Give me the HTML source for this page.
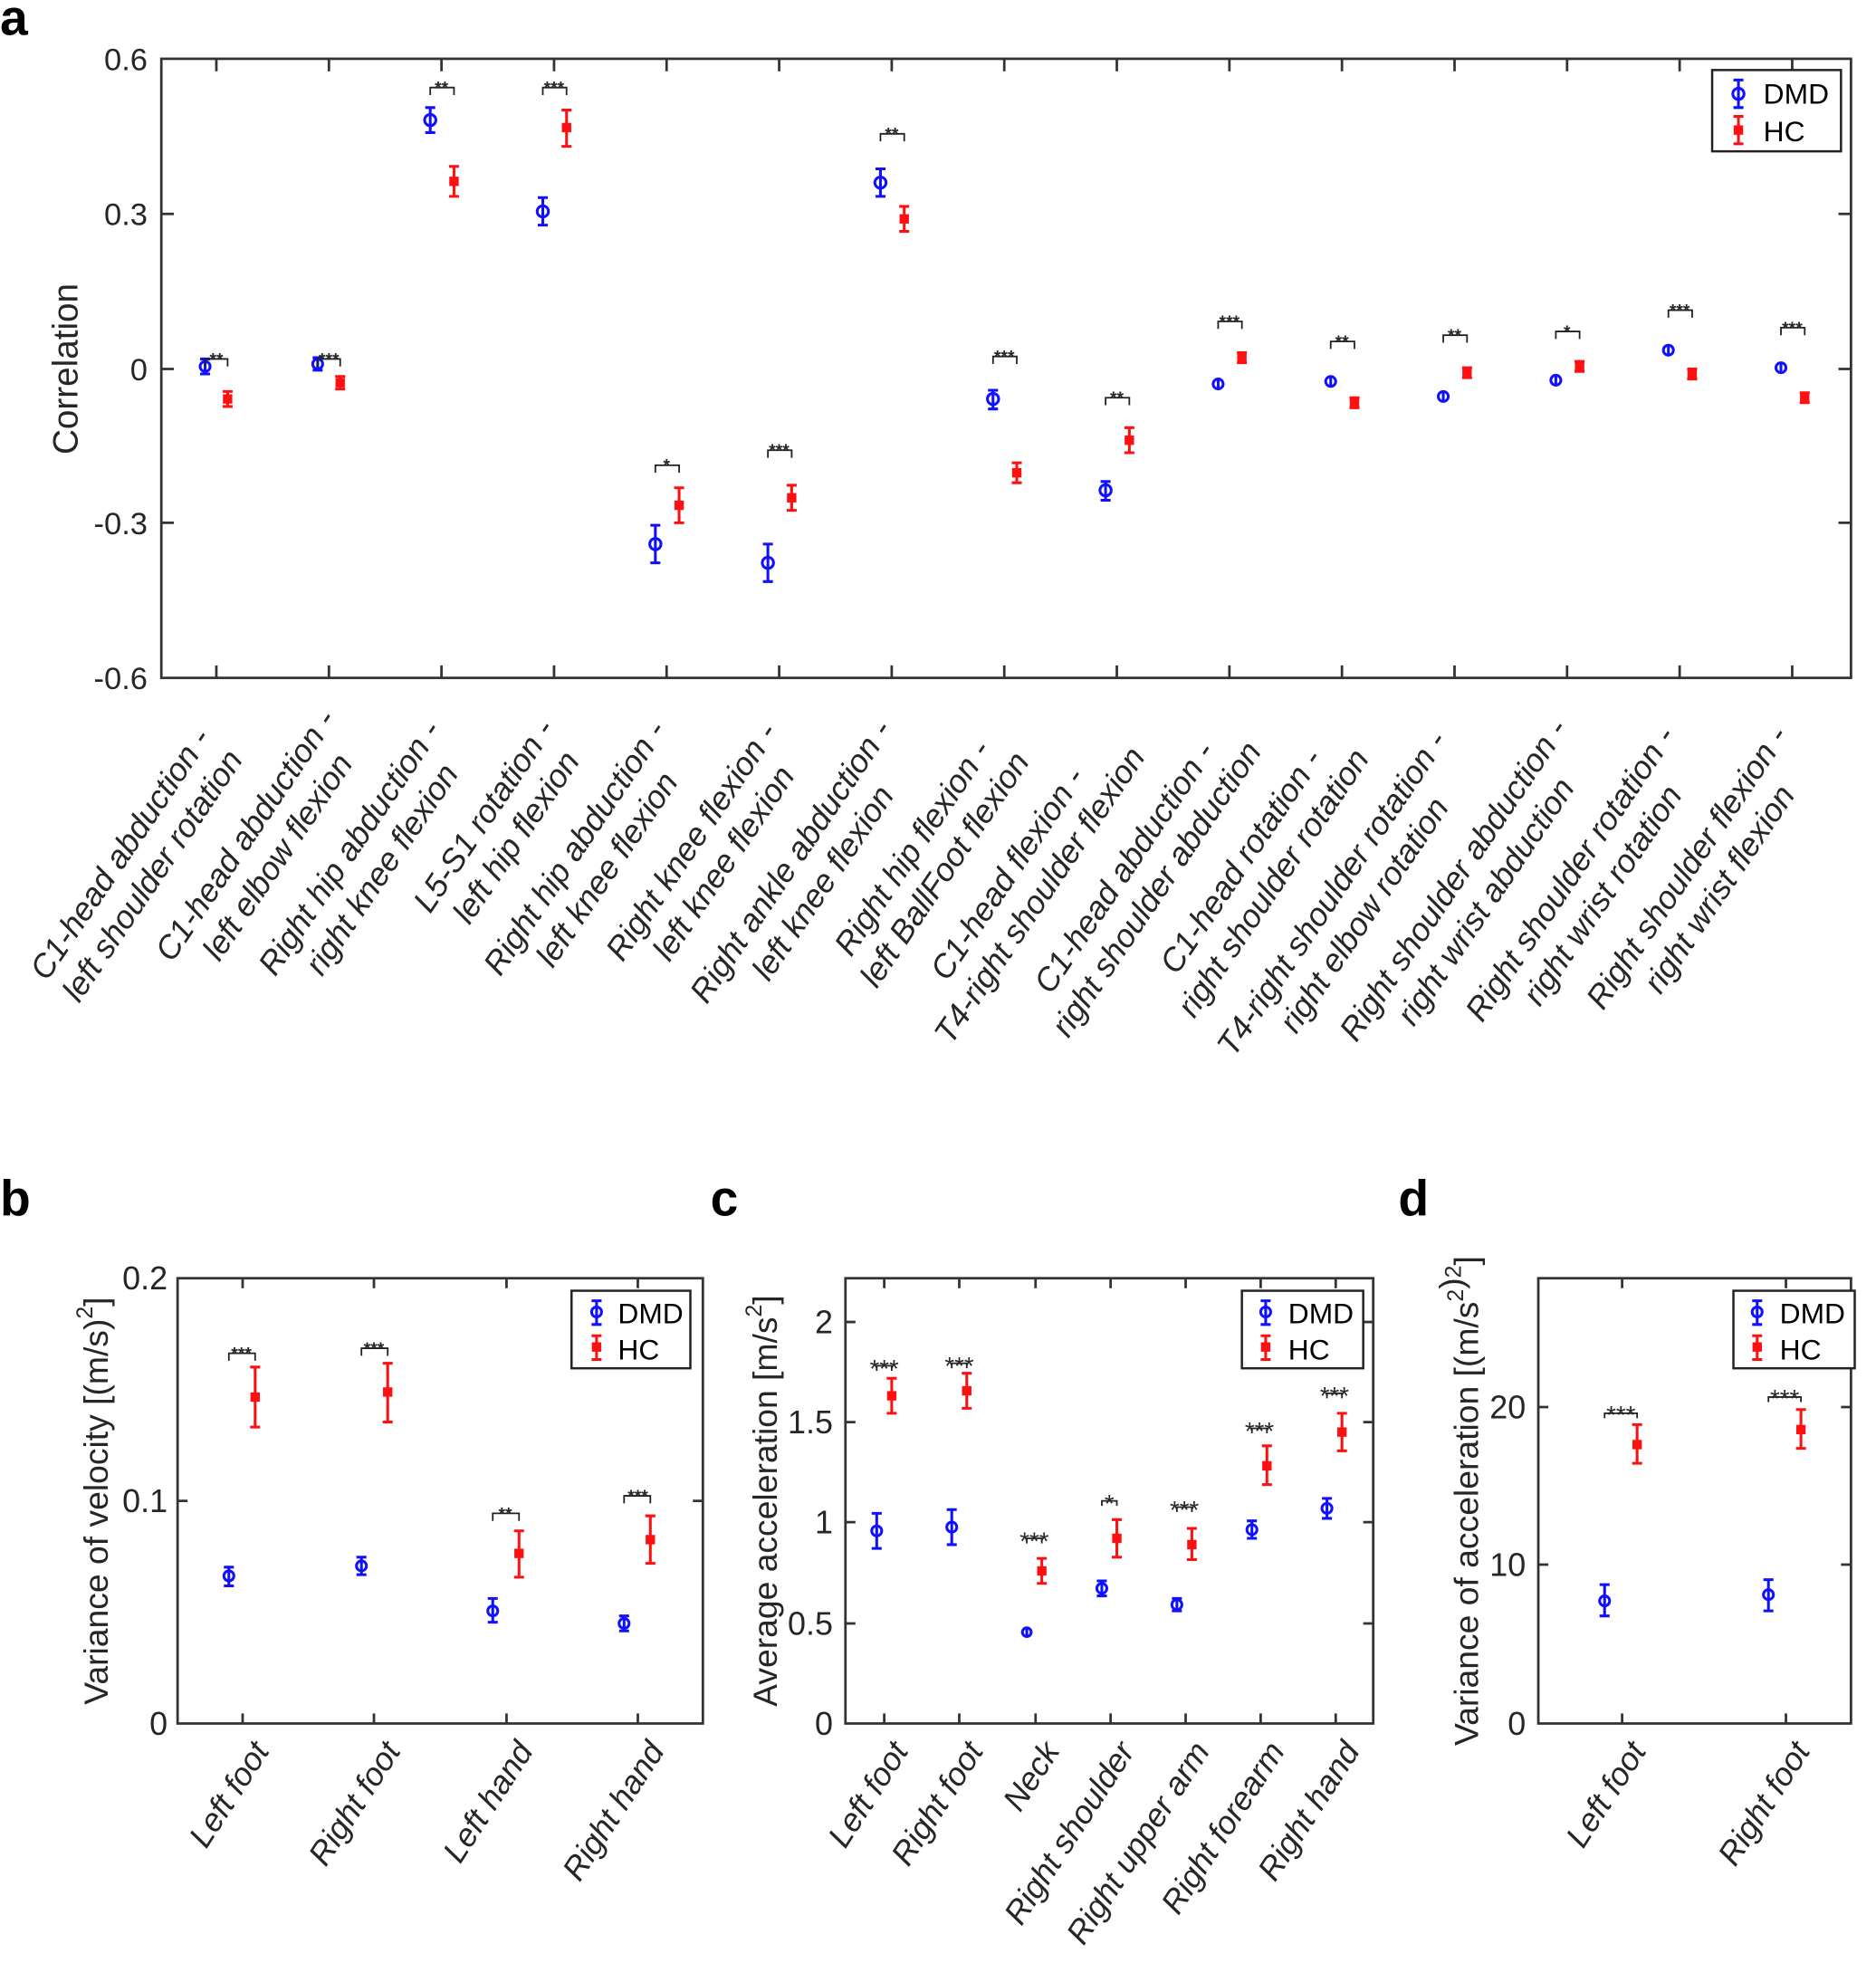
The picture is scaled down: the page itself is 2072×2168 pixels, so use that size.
<!DOCTYPE html>
<html><head><meta charset="utf-8"><style>
html,body{margin:0;padding:0;background:#fff}
svg{display:block}
text{font-family:"Liberation Sans",Arial,sans-serif;fill:#262626}
.ax{fill:none;stroke:#333;stroke-width:2}
.b{stroke:#1010ff;stroke-width:2.2;fill:none}
.r{stroke:#ff1010;stroke-width:2.2;fill:none}
.rs{fill:#ff1010;stroke:#ff1010;stroke-width:1.5}
.br{fill:none;stroke:#222;stroke-width:1.3}
.lab{font-style:italic}
</style></head><body>
<svg width="2072" height="2168" viewBox="0 0 1500 1569.5" preserveAspectRatio="none" xmlns="http://www.w3.org/2000/svg">
<text x="0" y="28" style="font-weight:bold;font-size:40px;fill:#000">a</text>
<text x="0" y="972" style="font-weight:bold;font-size:40px;fill:#000">b</text>
<text x="568" y="972" style="font-weight:bold;font-size:40px;fill:#000">c</text>
<text x="1118" y="972" style="font-weight:bold;font-size:40px;fill:#000">d</text>

<!-- ===== Panel a ===== -->
<rect x="129" y="47" width="1351" height="495" class="ax"/>
<path class="ax" d="M173 47v10M263 47v10M353 47v10M443 47v10M533 47v10M623 47v10M713 47v10M803 47v10M893 47v10M983 47v10M1073 47v10M1163 47v10M1253 47v10M1343 47v10M1433 47v10
M173 542v-10M263 542v-10M353 542v-10M443 542v-10M533 542v-10M623 542v-10M713 542v-10M803 542v-10M893 542v-10M983 542v-10M1073 542v-10M1163 542v-10M1253 542v-10M1343 542v-10M1433 542v-10
M129 171h10M129 295h10M129 418h10M1480 171h-10M1480 295h-10M1480 418h-10"/>
<g style="font-size:25px" text-anchor="end">
<text x="118" y="56">0.6</text><text x="118" y="180">0.3</text><text x="118" y="304">0</text><text x="118" y="427">-0.3</text><text x="118" y="551">-0.6</text>
</g>
<text transform="translate(62,295) rotate(-90)" text-anchor="middle" style="font-size:28px">Correlation</text>

<g>
<path class="b" d="M164 287V299M160 287h8M160 299h8"/><circle class="b" cx="164" cy="293" r="4"/>
<path class="r" d="M182 313V325M178 313h8M178 325h8"/><rect class="rs" x="179" y="316" width="6" height="6"/>
<path class="b" d="M254 286V296M250 286h8M250 296h8"/><circle class="b" cx="254" cy="291" r="4"/>
<path class="r" d="M272 301V311M268 301h8M268 311h8"/><rect class="rs" x="269" y="303" width="6" height="6"/>
<path class="b" d="M344 86V106M340 86h8M340 106h8"/><circle class="b" cx="344" cy="96" r="4.5"/>
<path class="r" d="M363 133V157M359 133h8M359 157h8"/><rect class="rs" x="360" y="142" width="6" height="6"/>
<path class="b" d="M434 158V180M430 158h8M430 180h8"/><circle class="b" cx="434" cy="169" r="4.5"/>
<path class="r" d="M453 88V117M449 88h8M449 117h8"/><rect class="rs" x="450" y="99" width="6" height="6"/>
<path class="b" d="M524 420V450M520 420h8M520 450h8"/><circle class="b" cx="524" cy="435" r="4.5"/>
<path class="r" d="M543 390V418M539 390h8M539 418h8"/><rect class="rs" x="540" y="401" width="6" height="6"/>
<path class="b" d="M614 435V465M610 435h8M610 465h8"/><circle class="b" cx="614" cy="450" r="4.5"/>
<path class="r" d="M633 388V408M629 388h8M629 408h8"/><rect class="rs" x="630" y="395" width="6" height="6"/>
<path class="b" d="M704 135V157M700 135h8M700 157h8"/><circle class="b" cx="704" cy="146" r="4.5"/>
<path class="r" d="M723 165V185M719 165h8M719 185h8"/><rect class="rs" x="720" y="172" width="6" height="6"/>
<path class="b" d="M794 312V327M790 312h8M790 327h8"/><circle class="b" cx="794" cy="319" r="4.5"/>
<path class="r" d="M813 370V386M809 370h8M809 386h8"/><rect class="rs" x="810" y="375" width="6" height="6"/>
<path class="b" d="M884 385V400M880 385h8M880 400h8"/><circle class="b" cx="884" cy="392" r="4.5"/>
<path class="r" d="M903 342V362M899 342h8M899 362h8"/><rect class="rs" x="900" y="349" width="6" height="6"/>
<path class="b" d="M974 303V311"/><circle class="b" cx="974" cy="307" r="4"/>
<path class="r" d="M993 282V290M989 282h8M989 290h8"/><rect class="rs" x="990" y="283" width="6" height="6"/>
<path class="b" d="M1064 301V309"/><circle class="b" cx="1064" cy="305" r="4"/>
<path class="r" d="M1083 318V326M1079 318h8M1079 326h8"/><rect class="rs" x="1080" y="319" width="6" height="6"/>
<path class="b" d="M1154 313V321"/><circle class="b" cx="1154" cy="317" r="4"/>
<path class="r" d="M1173 294V302M1169 294h8M1169 302h8"/><rect class="rs" x="1170" y="295" width="6" height="6"/>
<path class="b" d="M1244 300V308"/><circle class="b" cx="1244" cy="304" r="4"/>
<path class="r" d="M1263 289V297M1259 289h8M1259 297h8"/><rect class="rs" x="1260" y="290" width="6" height="6"/>
<path class="b" d="M1334 276V284"/><circle class="b" cx="1334" cy="280" r="4"/>
<path class="r" d="M1353 295V303M1349 295h8M1349 303h8"/><rect class="rs" x="1350" y="296" width="6" height="6"/>
<path class="b" d="M1424 290V298"/><circle class="b" cx="1424" cy="294" r="4"/>
<path class="r" d="M1443 314V322M1439 314h8M1439 322h8"/><rect class="rs" x="1440" y="315" width="6" height="6"/>
</g>
<path class="br" d="M164 293V287H182V293M254 293V287H272V293M344 76V70H363V76M434 76V70H453V76M524 378V372H543V378M614 366V360H633V366M704 113V107H723V113M794 291V285H813V291M884 324V318H903V324M974 263V257H993V263M1064 279V273H1083V279M1154 274V268H1173V274M1244 271V265H1263V271M1334 254V248H1353V254M1424 268V262H1443V268"/>
<g text-anchor="middle" style="font-size:14px;font-weight:bold">
<text x="173" y="292">**</text><text x="263" y="292">***</text><text x="353" y="75">**</text><text x="443" y="75">***</text><text x="533" y="377">*</text><text x="623" y="365">***</text><text x="713" y="112">**</text><text x="803" y="290">***</text><text x="893" y="323">**</text><text x="983" y="262">***</text><text x="1073" y="278">**</text><text x="1163" y="273">**</text><text x="1253" y="270">*</text><text x="1343" y="253">***</text><text x="1433" y="267">***</text>
</g>
<rect x="1369" y="56" width="103" height="65" fill="#fff" stroke="#222" stroke-width="1.8"/>
<path class="b" d="M1390 64V86M1386 64h8M1386 86h8"/><circle class="b" cx="1390" cy="75" r="4.5"/>
<path class="r" d="M1390 93V115M1386 93h8M1386 115h8"/><rect class="rs" x="1387" y="101" width="6" height="6"/>
<text x="1410" y="83" style="font-size:23px;fill:#000">DMD</text>
<text x="1410" y="113" style="font-size:23px;fill:#000">HC</text>

<g class="lab" style="font-size:26px" text-anchor="middle">
<text transform="translate(180,574) rotate(-56)"><tspan x="-137" y="0">C1-head abduction -</tspan><tspan x="-137" y="31">left shoulder rotation</tspan></text>
<text transform="translate(270,574) rotate(-56)"><tspan x="-119" y="0">C1-head abduction -</tspan><tspan x="-119" y="31">left elbow flexion</tspan></text>
<text transform="translate(360,574) rotate(-56)"><tspan x="-131" y="0">Right hip abduction -</tspan><tspan x="-131" y="31">right knee flexion</tspan></text>
<text transform="translate(450,574) rotate(-56)"><tspan x="-100" y="0">L5-S1 rotation -</tspan><tspan x="-100" y="31">left hip flexion</tspan></text>
<text transform="translate(540,574) rotate(-56)"><tspan x="-131" y="0">Right hip abduction -</tspan><tspan x="-131" y="31">left knee flexion</tspan></text>
<text transform="translate(630,574) rotate(-56)"><tspan x="-125" y="0">Right knee flexion -</tspan><tspan x="-125" y="31">left knee flexion</tspan></text>
<text transform="translate(720,574) rotate(-56)"><tspan x="-144" y="0">Right ankle abduction -</tspan><tspan x="-144" y="31">left knee flexion</tspan></text>
<text transform="translate(810,574) rotate(-56)"><tspan x="-131" y="0">Right hip flexion -</tspan><tspan x="-131" y="31">left BallFoot flexion</tspan></text>
<text transform="translate(900,574) rotate(-56)"><tspan x="-156" y="0">C1-head flexion -</tspan><tspan x="-156" y="31">T4-right shoulder flexion</tspan></text>
<text transform="translate(990,574) rotate(-56)"><tspan x="-150" y="0">C1-head abduction -</tspan><tspan x="-150" y="31">right shoulder abduction</tspan></text>
<text transform="translate(1080,574) rotate(-56)"><tspan x="-144" y="0">C1-head rotation -</tspan><tspan x="-144" y="31">right shoulder rotation</tspan></text>
<text transform="translate(1170,574) rotate(-56)"><tspan x="-175" y="0">T4-right shoulder rotation -</tspan><tspan x="-175" y="31">right elbow rotation</tspan></text>
<text transform="translate(1260,574) rotate(-56)"><tspan x="-162" y="0">Right shoulder abduction -</tspan><tspan x="-162" y="31">right wrist abduction</tspan></text>
<text transform="translate(1350,574) rotate(-56)"><tspan x="-156" y="0">Right shoulder rotation -</tspan><tspan x="-156" y="31">right wrist rotation</tspan></text>
<text transform="translate(1440,574) rotate(-56)"><tspan x="-150" y="0">Right shoulder flexion -</tspan><tspan x="-150" y="31">right wrist flexion</tspan></text>
</g>

<!-- ===== Panel b ===== -->
<rect x="142" y="1022" width="420" height="356" class="ax"/>
<path class="ax" d="M194 1022v8M299 1022v8M405 1022v8M510 1022v8M194 1378v-8M299 1378v-8M405 1378v-8M510 1378v-8M142 1200h8M562 1200h-8"/>
<g style="font-size:26px" text-anchor="end"><text x="134" y="1031">0.2</text><text x="134" y="1209">0.1</text><text x="134" y="1387">0</text></g>
<text transform="translate(86,1200) rotate(-90)" text-anchor="middle" style="font-size:27px">Variance of velocity [(m/s)<tspan dy="-12" style="font-size:18px">2</tspan><tspan dy="12">]</tspan></text>
<path class="b" d="M183 1253V1268M179 1253h8M179 1268h8M289 1245V1259M285 1245h8M285 1259h8M394 1278V1297M390 1278h8M390 1297h8M499 1292V1304M495 1292h8M495 1304h8"/>
<circle class="b" cx="183" cy="1260" r="4"/><circle class="b" cx="289" cy="1252" r="4"/><circle class="b" cx="394" cy="1288" r="4"/><circle class="b" cx="499" cy="1298" r="4"/>
<path class="r" d="M204 1093V1141M200 1093h8M200 1141h8M310 1090V1137M306 1090h8M306 1137h8M415 1224V1261M411 1224h8M411 1261h8M520 1212V1250M516 1212h8M516 1250h8"/>
<rect class="rs" x="201" y="1114" width="6" height="6"/><rect class="rs" x="307" y="1110" width="6" height="6"/><rect class="rs" x="412" y="1239" width="6" height="6"/><rect class="rs" x="517" y="1228" width="6" height="6"/>
<path class="br" d="M183 1088V1082H204V1088M289 1084V1078H310V1084M394 1216V1210H415V1216M499 1202V1196H520V1202"/>
<g text-anchor="middle" style="font-size:14px;font-weight:bold"><text x="193" y="1087">***</text><text x="299" y="1083">***</text><text x="404" y="1215">**</text><text x="510" y="1201">***</text></g>
<rect x="457" y="1032" width="95" height="62" fill="#fff" stroke="#222" stroke-width="1.8"/>
<path class="b" d="M477 1040V1059M473 1040h8M473 1059h8"/><circle class="b" cx="477" cy="1049" r="4"/>
<path class="r" d="M477 1068V1087M473 1068h8M473 1087h8"/><rect class="rs" x="474" y="1074" width="6" height="6"/>
<text x="494" y="1058" style="font-size:23px;fill:#000">DMD</text><text x="494" y="1087" style="font-size:23px;fill:#000">HC</text>
<g class="lab" style="font-size:26px" text-anchor="end">
<text transform="translate(216,1400) rotate(-57)">Left foot</text>
<text transform="translate(321,1400) rotate(-57)">Right foot</text>
<text transform="translate(427,1400) rotate(-57)">Left hand</text>
<text transform="translate(532,1400) rotate(-57)">Right hand</text>
</g>

<!-- ===== Panel c ===== -->
<rect x="676" y="1022" width="422" height="356" class="ax"/>
<path class="ax" d="M707 1022v8M767 1022v8M828 1022v8M888 1022v8M948 1022v8M1008 1022v8M1068 1022v8M707 1378v-8M767 1378v-8M828 1378v-8M888 1378v-8M948 1378v-8M1008 1378v-8M1068 1378v-8M676 1298h8M676 1217h8M676 1137h8M676 1057h8M1098 1298h-8M1098 1217h-8M1098 1137h-8M1098 1057h-8"/>
<g style="font-size:26px" text-anchor="end"><text x="666" y="1066">2</text><text x="666" y="1146">1.5</text><text x="666" y="1226">1</text><text x="666" y="1307">0.5</text><text x="666" y="1387">0</text></g>
<text transform="translate(621,1200) rotate(-90)" text-anchor="middle" style="font-size:27px">Average acceleration [m/s<tspan dy="-12" style="font-size:18px">2</tspan><tspan dy="12">]</tspan></text>
<path class="b" d="M701 1210V1238M697 1210h8M697 1238h8M761 1207V1235M757 1207h8M757 1235h8M821 1301V1309M881 1264V1276M877 1264h8M877 1276h8M941 1278V1288M937 1278h8M937 1288h8M1001 1216V1230M997 1216h8M997 1230h8M1061 1198V1214M1057 1198h8M1057 1214h8"/>
<circle class="b" cx="701" cy="1224" r="4"/><circle class="b" cx="761" cy="1221" r="4"/><circle class="b" cx="821" cy="1305" r="3.5"/><circle class="b" cx="881" cy="1270" r="4"/><circle class="b" cx="941" cy="1283" r="4"/><circle class="b" cx="1001" cy="1223" r="4"/><circle class="b" cx="1061" cy="1206" r="4"/>
<path class="r" d="M713 1102V1130M709 1102h8M709 1130h8M773 1098V1126M769 1098h8M769 1126h8M833 1246V1266M829 1246h8M829 1266h8M893 1215V1245M889 1215h8M889 1245h8M953 1222V1247M949 1222h8M949 1247h8M1013 1156V1187M1009 1156h8M1009 1187h8M1073 1130V1160M1069 1130h8M1069 1160h8"/>
<rect class="rs" x="710" y="1113" width="6" height="6"/><rect class="rs" x="770" y="1109" width="6" height="6"/><rect class="rs" x="830" y="1253" width="6" height="6"/><rect class="rs" x="890" y="1227" width="6" height="6"/><rect class="rs" x="950" y="1232" width="6" height="6"/><rect class="rs" x="1010" y="1169" width="6" height="6"/><rect class="rs" x="1070" y="1142" width="6" height="6"/>
<path class="br" d="M701 1096V1092H713V1096M761 1094V1090H773V1094M821 1234V1230H833V1234M881 1204V1200H893V1204M941 1209V1205H953V1209M1001 1146V1142H1013V1146M1061 1118V1114H1073V1118"/>
<g text-anchor="middle" style="font-size:20px"><text x="707" y="1101">***</text><text x="767" y="1099">***</text><text x="827" y="1239">***</text><text x="887" y="1209">*</text><text x="947" y="1214">***</text><text x="1007" y="1151">***</text><text x="1067" y="1123">***</text></g>
<rect x="993" y="1032" width="97" height="62" fill="#fff" stroke="#222" stroke-width="1.8"/>
<path class="b" d="M1012 1040V1059M1008 1040h8M1008 1059h8"/><circle class="b" cx="1012" cy="1049" r="4"/>
<path class="r" d="M1012 1068V1087M1008 1068h8M1008 1087h8"/><rect class="rs" x="1009" y="1074" width="6" height="6"/>
<text x="1030" y="1058" style="font-size:23px;fill:#000">DMD</text><text x="1030" y="1087" style="font-size:23px;fill:#000">HC</text>
<g class="lab" style="font-size:26px" text-anchor="end">
<text transform="translate(727,1400) rotate(-57)">Left foot</text>
<text transform="translate(787,1400) rotate(-57)">Right foot</text>
<text transform="translate(848,1400) rotate(-57)">Neck</text>
<text transform="translate(908,1400) rotate(-57)">Right shoulder</text>
<text transform="translate(968,1400) rotate(-57)">Right upper arm</text>
<text transform="translate(1028,1400) rotate(-57)">Right forearm</text>
<text transform="translate(1088,1400) rotate(-57)">Right hand</text>
</g>

<!-- ===== Panel d ===== -->
<rect x="1230" y="1022" width="250" height="356" class="ax"/>
<path class="ax" d="M1297 1022v8M1428 1022v8M1297 1378v-8M1428 1378v-8M1230 1251h8M1230 1125h8M1480 1251h-8M1480 1125h-8"/>
<g style="font-size:26px" text-anchor="end"><text x="1220" y="1134">20</text><text x="1220" y="1260">10</text><text x="1220" y="1387">0</text></g>
<text transform="translate(1182,1200) rotate(-90)" text-anchor="middle" style="font-size:27px">Variance of acceleration [(m/s<tspan dy="-12" style="font-size:18px">2</tspan><tspan dy="0">)</tspan><tspan dy="-2" style="font-size:18px">2</tspan><tspan dy="14">]</tspan></text>
<path class="b" d="M1283 1267V1292M1279 1267h8M1279 1292h8M1414 1263V1288M1410 1263h8M1410 1288h8"/>
<circle class="b" cx="1283" cy="1280" r="4"/><circle class="b" cx="1414" cy="1275" r="4"/>
<path class="r" d="M1309 1139V1170M1305 1139h8M1305 1170h8M1440 1127V1158M1436 1127h8M1436 1158h8"/>
<rect class="rs" x="1306" y="1152" width="6" height="6"/><rect class="rs" x="1437" y="1140" width="6" height="6"/>
<path class="br" d="M1283 1134V1130H1309V1134M1414 1121V1117H1440V1121"/>
<g text-anchor="middle" style="font-size:20px"><text x="1296" y="1138">***</text><text x="1427" y="1125">***</text></g>
<rect x="1386" y="1032" width="97" height="62" fill="#fff" stroke="#222" stroke-width="1.8"/>
<path class="b" d="M1405 1040V1059M1401 1040h8M1401 1059h8"/><circle class="b" cx="1405" cy="1049" r="4"/>
<path class="r" d="M1405 1068V1087M1401 1068h8M1401 1087h8"/><rect class="rs" x="1402" y="1074" width="6" height="6"/>
<text x="1423" y="1058" style="font-size:23px;fill:#000">DMD</text><text x="1423" y="1087" style="font-size:23px;fill:#000">HC</text>
<g class="lab" style="font-size:26px" text-anchor="end">
<text transform="translate(1317,1400) rotate(-57)">Left foot</text>
<text transform="translate(1448,1400) rotate(-57)">Right foot</text>
</g>
</svg>
</body></html>
